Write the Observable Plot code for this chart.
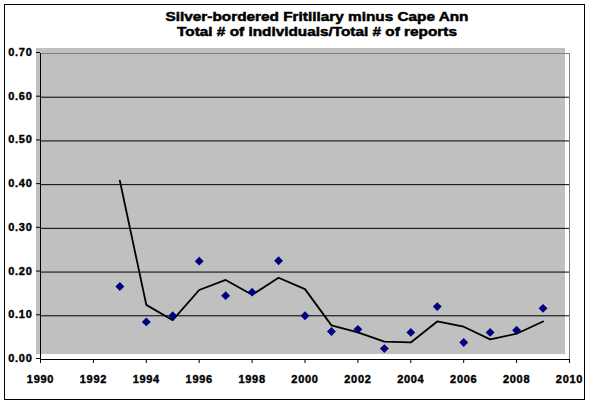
<!DOCTYPE html>
<html>
<head>
<meta charset="utf-8">
<script src="https://cdn.jsdelivr.net/npm/d3@7"></script>
<script src="https://cdn.jsdelivr.net/npm/@observablehq/plot@0.6"></script>
<style>
  html, body { margin: 0; padding: 0; background: #fff; }
  #wrap { position: relative; width: 591px; height: 406px; overflow: hidden; }
  #border { position: absolute; left: 4px; top: 4px; width: 581px; height: 396px; box-sizing: border-box; border: 1px solid #000; }
  #title { position: absolute; left: 317px; top: 9px; transform: translateX(-50%) scaleX(1.18); white-space: nowrap;
           font-family: "Liberation Sans", Arial, sans-serif; font-weight: bold; font-size: 13px; line-height: 15.3px; text-align: center; color: #000;
           -webkit-text-stroke: 0.5px #000; }
  #chart { position: absolute; left: 0; top: 0; }
  #chart svg text { letter-spacing: 0.7px; stroke: #000; stroke-width: 0.4px; }
</style>
</head>
<body>
<div id="wrap">
  <div id="border"></div>
  <div id="chart"></div>
  <div id="title">Silver-bordered Fritillary minus Cape Ann<br>Total # of individuals/Total # of reports</div>
</div>
<script>
// Data
const years = [1993, 1994, 1995, 1996, 1997, 1998, 1999, 2000, 2001, 2002, 2003, 2004, 2005, 2006, 2007, 2008, 2009];
const ratio = [0.167, 0.086, 0.100, 0.225, 0.146, 0.154, 0.226, 0.100, 0.064, 0.069, 0.025, 0.062, 0.121, 0.039, 0.062, 0.067, 0.117];
const trend = [0.409, 0.125, 0.090, 0.159, 0.182, 0.148, 0.187, 0.161, 0.078, 0.062, 0.041, 0.039, 0.087, 0.075, 0.046, 0.059, 0.087];

const xTicks = [1990, 1992, 1994, 1996, 1998, 2000, 2002, 2004, 2006, 2008, 2010];
const yTicks = [0, 0.1, 0.2, 0.3, 0.4, 0.5, 0.6, 0.7];
const yGrid = [0.1, 0.2, 0.3, 0.4, 0.5, 0.6];

const points = years.map((yr, i) => ({year: yr, ratio: ratio[i]}));
const line = years.map((yr, i) => ({year: yr, trend: trend[i]}));

const chart = Plot.plot({
  width: 591,
  height: 406,
  marginLeft: 40,
  marginRight: 22,
  marginTop: 53,
  marginBottom: 47,
  style: {fontFamily: "'Liberation Sans', Arial, sans-serif", fontSize: "11px", fontWeight: "bold", background: "transparent", overflow: "visible"},
  x: {domain: [1990, 2010]},
  y: {domain: [0, 0.7]},
  marks: [
    Plot.rect([0], {x1: () => 1990, x2: () => 2010, y1: () => 0, y2: () => 0.7, fill: "#c0c0c0", dx: -4, dy: -5}),
    Plot.ruleY(yGrid, {stroke: "#000", strokeWidth: 1}),
    Plot.ruleY([0.7], {stroke: "#808080", strokeWidth: 1}),
    Plot.ruleX([2010], {stroke: "#808080", strokeWidth: 1}),
    Plot.ruleX([1990], {stroke: "#000", strokeWidth: 1}),
    Plot.ruleY([0], {stroke: "#000", strokeWidth: 1}),
    Plot.axisX({ticks: xTicks, tickFormat: d => String(d), tickSize: 4, tickPadding: 12, label: null, fontWeight: "bold"}),
    Plot.axisY({ticks: yTicks, tickFormat: d3.format(".2f"), tickSize: 4, tickPadding: 4, label: null, fontWeight: "bold", dy: -1}),
    Plot.line(line, {x: "year", y: "trend", stroke: "#000", strokeWidth: 1.8}),
    Plot.dot(points, {x: "year", y: "ratio", symbol: "diamond2", r: 4, fill: "#000080", stroke: "none"})
  ]
});
document.getElementById("chart").appendChild(chart);
</script>
</body>
</html>
